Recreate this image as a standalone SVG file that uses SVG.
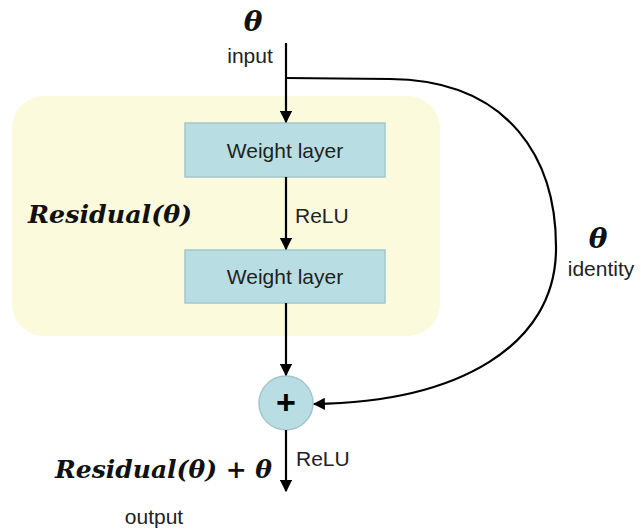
<svg xmlns="http://www.w3.org/2000/svg" width="641" height="530" viewBox="0 0 641 530">
<style>
.lbl{font-family:"Liberation Sans",Arial,sans-serif;font-size:21px;fill:#222}
.math{font-family:"DejaVu Serif","Liberation Serif",serif;font-weight:bold;font-style:italic;fill:#111}
.box{fill:#b8dee3;stroke:#a3c6cc;stroke-width:1.5}
.ln{fill:none;stroke:#000;stroke-width:2.2}
</style>
<defs>
<marker id="ah" viewBox="0 0 10 10" refX="9" refY="5" markerWidth="5.5" markerHeight="5.5" orient="auto">
<path d="M0,0 L10,5 L0,10 z" fill="#000"/>
</marker>
</defs>
<rect width="641" height="530" fill="#fff"/>
<g id="residual-block">
<rect x="12" y="96" width="428" height="240" rx="32" ry="32" fill="#fbfadd"/>
<text class="math" x="28" y="223" font-size="24" textLength="164" lengthAdjust="spacingAndGlyphs">Residual(θ)</text>
</g>
<g id="input">
<text class="math" x="253" y="31" font-size="28" text-anchor="middle">θ</text>
<text class="lbl" x="250" y="63" text-anchor="middle">input</text>
</g>
<g id="weight1">
<rect class="box" x="185" y="123" width="200" height="54"/>
<text class="lbl" x="285" y="158" text-anchor="middle">Weight layer</text>
</g>
<g id="weight2">
<rect class="box" x="185" y="250" width="200" height="53"/>
<text class="lbl" x="285" y="284" text-anchor="middle">Weight layer</text>
</g>
<g id="add">
<circle cx="286" cy="403" r="27" fill="#b8dee3" stroke="#a3c6cc" stroke-width="1.5"/>
<text x="286" y="414" font-family="Liberation Sans,Arial,sans-serif" font-size="34" font-weight="bold" text-anchor="middle" fill="#000">+</text>
</g>
<g id="identity-label">
<text class="math" x="598" y="248" font-size="28" text-anchor="middle">θ</text>
<text class="lbl" x="601" y="276" text-anchor="middle">identity</text>
</g>
<g id="output">
<text class="math" x="55" y="478" font-size="24" textLength="217" lengthAdjust="spacingAndGlyphs">Residual(θ) + θ</text>
<text class="lbl" x="154" y="524" text-anchor="middle">output</text>
</g>
<g id="connectors">
<path class="ln" d="M286,43 L286,122" marker-end="url(#ah)"/>
<path class="ln" d="M286,177 L286,249" marker-end="url(#ah)"/>
<path class="ln" d="M286,303 L286,375" marker-end="url(#ah)"/>
<path class="ln" d="M286,430 L286,491" marker-end="url(#ah)"/>
<path class="ln" d="M286,78 L390,79 C510,80 557,160 556,250 C555,345 460,402 314,404" marker-end="url(#ah)"/>
<text class="lbl" x="295" y="223">ReLU</text>
<text class="lbl" x="296" y="466">ReLU</text>
</g>
</svg>
